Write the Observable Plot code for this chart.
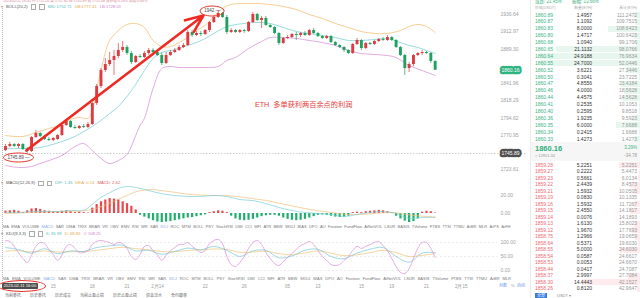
<!DOCTYPE html>
<html><head><meta charset="utf-8">
<script src="https://cdn.jsdelivr.net/npm/d3@7"></script>
<script src="https://cdn.jsdelivr.net/npm/@observablehq/plot@0.6"></script>
<style>
html,body{margin:0;padding:0;background:#fff;}
#root{position:relative;width:640px;height:298px;overflow:hidden;font-family:"Liberation Sans","Noto Sans CJK SC",sans-serif;color:#555}
#root svg{position:absolute;left:0;overflow:visible}
.a{position:absolute;white-space:nowrap;line-height:1}
</style></head><body><div id="root"></div>
<script>
// ---------------- data ----------------
const candleOpen = [1750.0,1755.5,1758.3,1755.5,1758.3,1751.4,1748.6,1767.9,1773.4,1769.3,
1765.2,1763.8,1765.2,1770.6,1784.4,1789.8,1781.6,1780.2,1783.0,1781.6,
1785.7,1814.5,1837.8,1859.8,1868.0,1873.5,1879.0,1887.3,1891.4,1883.1,
1870.8,1879.0,1877.6,1883.1,1887.3,1884.5,1880.4,1869.4,1880.4,1884.5,
1887.3,1891.4,1894.1,1912.0,1907.8,1910.6,1909.2,1914.7,1925.7,1932.5,
1938.0,1932.5,1912.0,1914.7,1912.0,1914.7,1913.3,1925.7,1936.6,1928.4,
1931.2,1921.6,1918.8,1910.6,1896.9,1903.7,1905.1,1909.2,1907.8,1910.6,
1907.8,1914.7,1910.6,1906.4,1903.7,1906.4,1898.2,1894.1,1891.4,1887.3,
1883.1,1895.5,1901.0,1890.0,1896.9,1895.5,1899.6,1902.3,1901.0,1905.1,
1901.0,1891.4,1880.4,1862.5,1868.0,1880.4,1883.1,1884.5,1883.1,1872.2];
const candleHigh = [1758.3,1761.0,1759.6,1759.6,1759.6,1754.2,1769.3,1777.5,1774.8,1770.6,
1767.9,1767.9,1772.0,1787.1,1792.6,1791.2,1784.4,1784.4,1785.7,1788.5,
1815.9,1840.6,1862.5,1876.3,1884.5,1887.3,1896.9,1899.6,1894.1,1885.9,
1880.4,1881.8,1885.9,1890.0,1890.0,1887.3,1884.5,1884.5,1887.3,1890.0,
1894.1,1896.9,1914.7,1914.7,1913.3,1913.3,1916.0,1927.0,1935.3,1942.1,
1939.4,1935.3,1917.4,1916.0,1916.0,1916.0,1927.0,1939.4,1938.0,1933.9,
1933.9,1922.9,1920.2,1912.0,1905.1,1907.8,1910.6,1912.0,1912.0,1913.3,
1916.0,1917.4,1912.0,1907.8,1907.8,1907.8,1899.6,1895.5,1892.7,1888.6,
1896.9,1903.7,1902.3,1898.2,1898.2,1901.0,1903.7,1905.1,1907.8,1906.4,
1902.3,1892.7,1881.8,1870.8,1881.8,1884.5,1887.3,1885.9,1884.5,1873.5];
const candleLow = [1748.6,1754.2,1754.2,1752.8,1750.0,1745.9,1747.3,1766.5,1767.9,1763.8,
1762.4,1762.4,1763.8,1769.3,1783.0,1780.2,1778.9,1778.9,1780.2,1780.2,
1784.4,1811.8,1835.1,1857.1,1865.3,1853.0,1876.3,1884.5,1880.4,1868.0,
1869.4,1876.3,1876.3,1880.4,1883.1,1879.0,1866.7,1868.0,1879.0,1883.1,
1885.9,1890.0,1892.7,1905.1,1906.4,1906.4,1907.8,1912.0,1924.3,1931.2,
1931.2,1909.2,1910.6,1910.6,1910.6,1910.6,1912.0,1924.3,1927.0,1917.4,
1920.2,1917.4,1909.2,1894.1,1895.5,1902.3,1903.7,1901.0,1905.1,1906.4,
1906.4,1909.2,1905.1,1902.3,1902.3,1896.9,1892.7,1890.0,1884.5,1881.8,
1881.8,1894.1,1887.3,1888.6,1894.1,1894.1,1898.2,1899.6,1899.6,1899.6,
1890.0,1879.0,1853.0,1857.1,1865.3,1879.0,1880.4,1881.8,1869.4,1859.8];
const candleClose = [1755.5,1758.3,1755.5,1758.3,1751.4,1748.6,1767.9,1773.4,1769.3,1765.2,
1763.8,1766.5,1770.6,1784.4,1789.8,1781.6,1780.2,1783.0,1781.6,1785.7,
1814.5,1837.8,1859.8,1868.0,1873.5,1879.0,1887.3,1891.4,1883.1,1870.8,
1879.0,1877.6,1883.1,1887.3,1884.5,1880.4,1869.4,1880.4,1884.5,1887.3,
1891.4,1894.1,1912.0,1907.8,1910.6,1909.2,1914.7,1925.7,1932.5,1938.0,
1932.5,1912.0,1914.7,1912.0,1914.7,1913.3,1925.7,1936.6,1928.4,1931.2,
1921.6,1918.8,1910.6,1896.9,1903.7,1905.1,1909.2,1907.8,1910.6,1907.8,
1914.7,1910.6,1906.4,1903.7,1906.4,1898.2,1894.1,1891.4,1887.3,1883.1,
1895.5,1901.0,1890.0,1896.9,1895.5,1899.6,1902.3,1901.0,1905.1,1901.0,
1891.4,1880.4,1862.5,1868.0,1880.4,1883.1,1884.5,1883.1,1872.2,1860.16];

const bollUpper = [[0,1770.6],[4,1769.3],[7,1774.8],[10,1780.2],[13,1785.7],[15,1792.6],[17,1795.4],[19,1794.0],[20,1804.9],[21,1835.1],[22,1859.8],[23,1884.5],[24,1901.0],[26,1914.7],[28,1922.9],[30,1924.3],[32,1918.8],[34,1901.0],[36,1892.7],[38,1892.7],[40,1898.2],[42,1905.1],[44,1914.7],[46,1921.6],[48,1933.9],[50,1944.9],[52,1950.4],[55,1951.7],[58,1951.7],[61,1950.4],[64,1947.6],[67,1943.5],[70,1936.6],[73,1931.2],[76,1924.3],[79,1918.8],[82,1913.3],[85,1910.6],[88,1910.6],[91,1914.7],[93,1920.2],[95,1922.9],[97,1920.2],[99,1912.0]];
const bollMid = [[0,1752.7],[5,1752.8],[8,1754.2],[10,1756.9],[13,1762.4],[16,1769.3],[18,1776.1],[20,1783.0],[22,1791.2],[24,1800.8],[26,1810.4],[28,1824.1],[30,1840.6],[32,1859.8],[34,1876.3],[36,1884.5],[38,1887.3],[40,1890.0],[42,1894.1],[44,1898.2],[46,1903.7],[48,1910.6],[50,1917.4],[52,1921.6],[55,1924.3],[58,1925.7],[61,1924.3],[64,1918.8],[67,1913.3],[70,1910.6],[73,1907.8],[76,1905.1],[79,1901.0],[82,1901.0],[85,1902.3],[88,1903.7],[91,1898.2],[93,1894.1],[95,1891.4],[97,1887.3],[99,1883.1]];
const bollLower = [[0,1729.5],[3,1726.7],[6,1728.1],[8,1732.2],[10,1736.3],[13,1743.2],[16,1755.5],[18,1759.6],[20,1750.0],[22,1739.1],[24,1732.2],[26,1736.3],[28,1744.6],[30,1770.6],[31,1784.4],[32,1794.0],[34,1835.1],[36,1862.5],[38,1865.3],[40,1863.9],[43,1863.9],[46,1863.9],[49,1865.3],[51,1873.5],[53,1877.6],[56,1890.0],[59,1899.6],[61,1905.1],[64,1905.1],[67,1903.7],[70,1901.0],[73,1898.2],[76,1894.1],[79,1887.3],[82,1883.1],[85,1881.8],[88,1880.4],[90,1877.6],[93,1866.7],[96,1859.8],[99,1853.0]];

const priceTicks = [1936.64,1912.97,1889.30,1841.96,1818.29,1794.62,1770.95,1723.61];
const lastPrice = 1860.16;
const crossPrice = 1745.89;
const bollLegend = ["MID:1752.71","UB:1777.41","LB:1728.01"];
const noteText = "ETH  多单获利两百余点的利润";
const highLabel = "1942 —";
const lowLabel = "1745.89 —";

const macdHist = [2.62,3,3.5,2.5,1,3,5,5.5,4.5,3,
2.5,2,2,2.5,3,2,1,1.5,1,0.5,
6,10,13,15,16.5,16,15,13,11,8,
4,-2,-4,-6,-8,-9.5,-10,-9.5,-9,-8,
-7,-6,-5,-4.5,-3.5,-2.5,-1.5,1,2,3,
2.5,1,-3,-6,-7.5,-8,-7.5,-6.5,-5,-3.5,
-2.5,-2,-2,-3,-5,-6.5,-7.5,-8,-7.5,-6.5,
-5,-3.5,-2,-1.5,-2,-3,-4,-4.5,-4,-3,
1,1.5,1,2,2.5,3,3.5,3,2,1,
-3,-6,-8.5,-10,-9,-6,1.5,2.5,2,0.5];
const macdLineIdx = [0,3,6,9,12,15,18,20,22,24,26,28,30,33,36,39,42,45,48,51,54,57,60,63,66,69,72,75,78,81,84,87,90,93,96,99];
const macdDIF = [1.45,1.2,2.2,2.5,2.2,3.5,3.5,10,18,23,28,30,29,25.5,22,20,19,19,20,19,15.5,14.4,11,6.7,3.3,1.1,0,-1.1,-3.3,-1.1,1.1,2.2,0,-5.5,-4.4,-4.4];
const macdDEA = [0.14,0.5,1.2,1.8,2.0,2.5,3.0,4.5,7.5,11.5,16,20,24,26.5,25.5,23.5,21.5,20.5,20,19.8,18.5,16.5,14.5,11.5,8.5,5.5,3,1.2,-0.8,-1.2,-0.4,0.8,0.8,-1.5,-3,-3.8];
const macdTicks = [20,0];
const macdLegend = ["DIF: 1.45","DEA: 0.14","MACD: 2.62"];

const kdjJ = [107,104,86,64,43,29,54,86,100,96,
75,57,36,55,86,93,79,64,64,71,
93,104,107,104,100,93,100,96,79,50,
39,57,86,89,71,57,36,54,71,82,
93,93,100,86,75,64,71,96,107,111,
96,50,21,14,29,50,79,100,107,93,
64,43,25,18,32,46,61,75,89,96,
104,93,71,50,36,21,18,21,36,50,
71,86,79,86,93,100,104,89,71,43,
14,-7,-11,7,43,79,100,100,79,46];
const kdSampleIdx = [0,3,6,9,12,15,18,21,24,27,30,33,36,39,42,45,48,51,54,57,60,63,66,69,72,75,78,81,84,87,90,93,96,99];
const kdjK = [82,75,62,78,60,70,68,82,88,90,70,72,58,68,80,74,86,72,50,70,72,45,52,72,76,50,42,62,76,82,50,30,62,64];
const kdjD = [69,71,66,70,66,67,68,72,78,83,78,74,68,67,72,73,77,75,65,66,69,60,56,63,70,62,53,56,64,72,64,50,54,60];
const kdjTicks = [100,50,0];
const kdjLegend = ["K: 81.99","D: 68.86","J: 108.25"];

const dateIdx = [11,20,28,35,46,55,65,72,82,89,97,105];
const dateLabels = ["15","18","21","2月14","22","26","05","13","15","19","21","2月15"];
const crossDate = "2023-02-11 16:00";

const indicatorTabs = ["MA","EMA","VOLUME","MACD","SAR","DMA","TRIX","BRAR","VR","OBV","EMV","RSI","WR","SAR","KDJ","ROC","MTM","BOLL","PSY","StochRSI","DMI","CCI","MFI","ATR","BBW","SKDJ","BIAS","DPO","AO","Fosition","FundFlow","AtNetVOL","LSUR","BASIS","TVolume","FTBS","TTSI","TTMU","ArBR","MLR","ArPS","ArFH"];
const activeTabs = ["MACD","KDJ"];
const bottomTabs = ["当前委托","历史委托","历史成交","当前止盈止损","历史止盈止损","资金流水","合约跟单"];

const askPrice = ["1860.89","1860.87","1860.83","1860.80","1860.68","1860.65","1860.64","1860.55","1860.52","1860.50","1860.47","1860.46","1860.44","1860.41","1860.40","1860.36","1860.35","1860.34","1860.33"];
const askAmount = ["1.4957","1.1092","8.0000","1.4717","1.0940","21.1132","24.9188","24.7000","3.6221","0.3041","4.8556","4.0000","4.4575","0.2535","0.2595","1.9235","6.0000","0.2415","1.4273"];
const askTotal = ["111.2472","109.7515","108.6423","100.6423","99.1706","98.0766","76.9634","52.0446","27.3446","23.7225","23.4184","18.5628","14.5628","10.1053","9.8518","9.5923","7.6688","1.6688","1.4273"];
const bidPrice = ["1859.28","1859.27","1859.23","1859.22","1859.21","1859.19","1859.16","1859.15","1859.14","1859.13","1859.12","1858.75","1858.64","1858.55","1858.54","1858.53","1858.44","1858.37","1858.30","1858.26"];
const bidAmount = ["5.2251","0.2222","0.5661","2.4439","1.5932","0.0830","1.5932","2.4550","0.0076","1.6130","1.9670","1.2966","0.5371","5.0000","0.0587","0.0053","0.0417","2.9997","14.4443","0.8120"];
const bidTotal = ["5.2251","5.4473","6.0134","8.4573","10.0505","10.1335","11.7267","14.1817","14.1893","15.8023","17.7693","19.0659","19.6030","24.6030","24.6617","24.6670","24.7087","27.7084","42.1527","42.9647"];
const bookHeader = ["价格(USDT)","数量(ETH)","累计(ETH)"];
const bookStats = ["涨跌: 21.45%","振幅: 13.66%"];
const midSub = "≈ 12851.34";
const midChange = ["3.29%","-34.78"];

// ---------------- drawing ----------------
const RED = "#de3b40", GREEN = "#1fa25f";
const root = document.getElementById("root");
const idx = d3.range(candleOpen.length);
const upIdx = idx.filter(i => candleClose[i] >= candleOpen[i]);
const dnIdx = idx.filter(i => candleClose[i] < candleOpen[i]);
const xScale = {domain: [0, 120], range: [5, 525.8], axis: null};
const common = {width: 640, marginLeft: 0, marginTop: 0, marginBottom: 0, marginRight: 143,
  style: {background: "transparent", overflow: "visible", fontFamily: "Liberation Sans, sans-serif"}};
function place(svg, top) { svg.style.top = top + "px"; root.appendChild(svg); return svg; }
function ellipseSym(rx, ry) { const k = 0.5523; return {draw(c) {
  c.moveTo(rx, 0); c.bezierCurveTo(rx, ry*k, rx*k, ry, 0, ry); c.bezierCurveTo(-rx*k, ry, -rx, ry*k, -rx, 0);
  c.bezierCurveTo(-rx, -ry*k, -rx*k, -ry, 0, -ry); c.bezierCurveTo(rx*k, -ry, rx, -ry*k, rx, 0); c.closePath(); }}; }
const axisStyle = {anchor: "right", tickSize: 0, tickPadding: 3, fontSize: 5, color: "#a0a0a0", tickFormat: d => d.toFixed(2)};

// price panel
place(Plot.plot({...common, height: 172, x: xScale,
  y: {domain: [1719.87, 1955.85], range: [172, 0], axis: null},
  marks: [
    Plot.ruleY([crossPrice], {stroke: "#b8b8b8", strokeWidth: 0.7, strokeDasharray: "1.5,1.5", x2: 120}),
    Plot.line(bollUpper, {stroke: "#f2c07a", strokeWidth: 0.8, curve: "catmull-rom"}),
    Plot.line(bollMid, {stroke: "#7dd0d4", strokeWidth: 0.8, curve: "catmull-rom"}),
    Plot.line(bollLower, {stroke: "#d896d8", strokeWidth: 0.8, curve: "catmull-rom"}),
    Plot.ruleX(upIdx, {x: i => i, y1: i => candleLow[i], y2: i => candleHigh[i], stroke: RED, strokeWidth: 0.7}),
    Plot.ruleX(dnIdx, {x: i => i, y1: i => candleLow[i], y2: i => candleHigh[i], stroke: GREEN, strokeWidth: 0.7}),
    Plot.ruleX(upIdx, {x: i => i, y1: i => candleOpen[i], y2: i => candleClose[i], stroke: RED, strokeWidth: 2.9}),
    Plot.ruleX(dnIdx, {x: i => i, y1: i => candleOpen[i], y2: i => candleClose[i], stroke: GREEN, strokeWidth: 2.9}),
    Plot.arrow([{x1: 4.8, y1: 1750.0, x2: 45.6, y2: 1935.3}], {x1: "x1", y1: "y1", x2: "x2", y2: "y2", stroke: "#ee2a22", strokeWidth: 2.6, headLength: 11, headAngle: 45}),
    Plot.dot([{i: 47.6, p: 1941.4}], {x: "i", y: "p", r: 5, symbol: ellipseSym(12, 5), fill: "none", stroke: "#e8352b", strokeWidth: 1}),
    Plot.text([highLabel], {x: 47.6, y: 1941.4, text: d => d, fontSize: 4.5, fill: "#444"}),
    Plot.dot([{i: 3.0, p: 1740.45}], {x: "i", y: "p", r: 5, symbol: ellipseSym(15, 4.5), fill: "none", stroke: "#e8352b", strokeWidth: 1}),
    Plot.text([lowLabel], {x: 3.0, y: 1740.45, text: d => d, fontSize: 4.5, fill: "#444"}),
    Plot.text([noteText], {x: 68.7, y: 1813.2, text: d => d, fontSize: 7.2, fill: "#e53a35", fontFamily: "Liberation Sans, Noto Sans CJK SC, sans-serif"}),
    Plot.axisY(priceTicks, axisStyle),
    Plot.text([lastPrice], {y: d => d, frameAnchor: "right", dx: 13, textAnchor: "middle", text: d => d.toFixed(2), fontSize: 5, fill: "#fff", stroke: "#2fb381", strokeWidth: 4.5, strokeLinejoin: "round"}),
    Plot.text([crossPrice], {y: d => d, frameAnchor: "right", dx: 13, textAnchor: "middle", text: d => d.toFixed(2), fontSize: 5, fill: "#fff", stroke: "#505050", strokeWidth: 4.5, strokeLinejoin: "round"})
  ]}), 0);

// MACD panel
place(Plot.plot({...common, height: 40, x: xScale,
  y: {domain: [-14.44, 30], range: [40, 0], axis: null},
  marks: [
    Plot.ruleX(idx.filter(i => macdHist[i] >= 0), {x: i => i, y1: 0, y2: i => macdHist[i], stroke: "#e8484c", strokeWidth: 2.2}),
    Plot.ruleX(idx.filter(i => macdHist[i] < 0), {x: i => i, y1: 0, y2: i => macdHist[i], stroke: "#1fae6d", strokeWidth: 2.2}),
    Plot.line(macdLineIdx.map((i, k) => [i, macdDEA[k]]), {stroke: "#f0c07a", strokeWidth: 0.7, curve: "catmull-rom"}),
    Plot.line(macdLineIdx.map((i, k) => [i, macdDIF[k]]), {stroke: "#78cfd6", strokeWidth: 0.7, curve: "catmull-rom"}),
    Plot.axisY(macdTicks, axisStyle)
  ]}), 186);

// KDJ panel
place(Plot.plot({...common, height: 40, x: xScale,
  y: {domain: [-21.43, 121.43], range: [40, 0], axis: null},
  marks: [
    Plot.ruleY(kdjTicks, {stroke: "#dedede", strokeWidth: 0.6, strokeDasharray: "2,2"}),
    Plot.line(kdSampleIdx.map((i, k) => [i, kdjD[k]]), {stroke: "#f0c272", strokeWidth: 0.7, curve: "catmull-rom"}),
    Plot.line(kdSampleIdx.map((i, k) => [i, kdjK[k]]), {stroke: "#74c9d6", strokeWidth: 0.7, curve: "catmull-rom"}),
    Plot.line(idx.map(i => [i, kdjJ[i]]), {stroke: "#d98ad8", strokeWidth: 0.7, curve: "catmull-rom"}),
    Plot.axisY(kdjTicks, axisStyle)
  ]}), 236);

// date axis
const dateLabelOf = new Map(dateIdx.map((d, k) => [d, dateLabels[k]]));
place(Plot.plot({...common, height: 8, x: xScale, y: {axis: null},
  marks: [Plot.axisX(dateIdx, {tickSize: 0, tickPadding: 0, fontSize: 4.5, color: "#9a9a9a", tickFormat: d => dateLabelOf.get(d)})]
}), 276);

// ---------------- HTML overlays ----------------
function el(x, y, text, css) { const e = document.createElement("div"); e.className = "a";
  e.style.left = x + "px"; e.style.top = y + "px"; if (text != null) e.textContent = text; Object.assign(e.style, css || {}); root.appendChild(e); return e; }

// crosshair vertical
el(2, 8, null, {width: "0", height: "273px", borderLeft: "0.7px dotted #bbb"});

// top line
el(3, -0.5, "2023/02/11 16:00  开:1752.20  高:1757.85  低:1745.89  收:1755.48  涨跌幅:0.18%  振幅:0.68%", {fontSize: "3.6px", color: "#d98a9a"});

function legendRow(x, y, name, items, colors) {
  const r = el(x, y, null, {display: "flex", gap: "3px", alignItems: "center", fontSize: "4.2px"});
  const c = document.createElement("span"); c.textContent = "▾"; c.style.color = "#999"; r.appendChild(c);
  const n = document.createElement("span"); n.textContent = name; n.style.color = "#555"; r.appendChild(n);
  for (let k = 0; k < 2; k++) { const b = document.createElement("span"); Object.assign(b.style, {display: "inline-block", width: "3.5px", height: "3.5px", border: "0.6px solid #aaa", borderRadius: "0.5px"}); r.appendChild(b); }
  items.forEach((t, k) => { const s = document.createElement("span"); s.textContent = t; s.style.color = colors[k]; r.appendChild(s); });
}
legendRow(1, 4, "BOLL(20,2)", bollLegend, ["#55c0c6", "#e8a94a", "#cf7fcf"]);
legendRow(1, 180.5, "MACD(12,26,9)", macdLegend, ["#55c0c6", "#e8a94a", "#e0555a"]);
legendRow(1, 231, "KDJ(9,3,3)", kdjLegend, ["#55c0c6", "#e8a94a", "#cf7fcf"]);

function tabRow(y, width, items) {
  const r = el(3, y, null, {display: "flex", justifyContent: "space-between", width: width + "px", fontSize: "4px", color: "#777"});
  items.forEach(t => { const s = document.createElement("span"); s.textContent = t; if (activeTabs.includes(t)) s.style.color = "#8aaee0"; r.appendChild(s); });
}
tabRow(225, 508, indicatorTabs);
tabRow(277, 508, indicatorTabs.slice(0, 40));

// date box with ellipse
el(1.5, 282.5, crossDate, {background: "#4d4d4d", color: "#fff", fontSize: "4.2px", padding: "1.2px 2px", borderRadius: "1px"});
el(-2, 280, null, {width: "46px", height: "10px", border: "1px solid #e3342c", borderRadius: "50%"});

// scale mode controls
el(499, 284, "对数", {fontSize: "4px", color: "#5b8def"});
el(511, 284, "%", {fontSize: "4px", color: "#999"});
el(517, 284, "自动", {fontSize: "4px", color: "#5b8def"});

// bottom tabs
const bt = el(5, 293.5, null, {display: "flex", gap: "9px", fontSize: "4px", color: "#666"});
bottomTabs.forEach(t => { const s = document.createElement("span"); s.textContent = t; bt.appendChild(s); });

// order book
const BX = 532;
el(BX - 2, 0, null, {width: "0", height: "298px", borderLeft: "0.8px solid #ececec"});
el(BX + 3, 0, bookStats[0], {fontSize: "4.5px", color: "#3db384"});
el(BX + 40, 0, bookStats[1], {fontSize: "4.5px", color: "#3db384"});
el(BX + 3, 7, bookHeader[0], {fontSize: "3.8px", color: "#aaa"});
el(BX + 60, 7, bookHeader[1], {fontSize: "3.8px", color: "#aaa", transform: "translateX(-100%)"});
el(BX + 105, 7, bookHeader[2], {fontSize: "3.8px", color: "#aaa", transform: "translateX(-100%)"});
function bookRow(y, p, a, t, pc, bar) {
  const w = Math.min(parseFloat(a) / 25, 1) * 100;
  el(640 - w, y - 3, null, {width: w + "px", height: "6px", background: bar});
  el(BX + 3, y - 2.5, p, {fontSize: "5px", color: pc});
  el(BX + 60, y - 2.5, a, {fontSize: "5px", color: "#333", transform: "translateX(-100%)"});
  el(BX + 105, y - 2.5, t, {fontSize: "5px", color: "#999", transform: "translateX(-100%)"});
}
askPrice.forEach((p, k) => bookRow(15 + k * 6.89, p, askAmount[k], askTotal[k], "#3db384", "#e7f6ee"));
el(BX - 1, 142, null, {width: "110px", height: "19px", background: "#f6f6f6"});
el(BX + 3, 145, lastPrice.toFixed(2), {fontSize: "7.5px", color: "#2fae7c", fontWeight: "bold"});
el(BX + 3, 154, midSub, {fontSize: "4px", color: "#999"});
el(BX + 105, 146, midChange[0], {fontSize: "4.5px", color: "#3db384", transform: "translateX(-100%)"});
el(BX + 105, 154, midChange[1], {fontSize: "4.5px", color: "#999", transform: "translateX(-100%)"});
bidPrice.forEach((p, k) => bookRow(165 + k * 6.5, p, bidAmount[k], bidTotal[k], "#ee6b74", "#fdebed"));
el(BX - 1, 292.5, null, {width: "110px", height: "6px", background: "#fff"});
el(BX + 3, 293, "全部", {fontSize: "4px", color: "#fff", background: "#3a7be0", padding: "0.5px 2px"});
el(BX + 25, 293.5, "USDT ▾", {fontSize: "4px", color: "#888"});
</script></body></html>
